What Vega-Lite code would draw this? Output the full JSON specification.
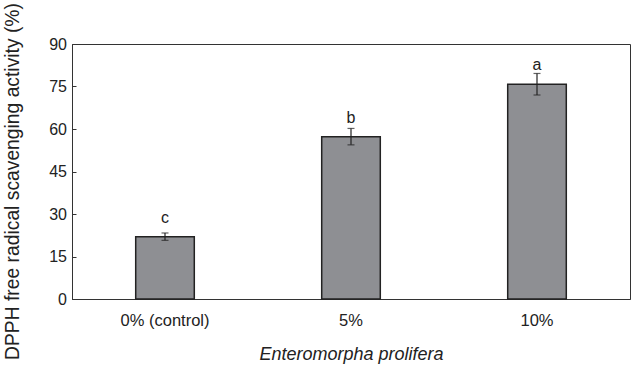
{
  "$schema": "https://vega.github.io/schema/vega-lite/v6.json",
  "width": 558,
  "height": 255,
  "autosize": {"type": "none"},
  "padding": {"left": 72, "top": 44, "right": 7, "bottom": 66},
  "background": "white",
  "config": {
    "view": {"stroke": "#333333", "strokeWidth": 1},
    "font": "Liberation Sans",
    "axis": {"domainColor": "#333333", "tickColor": "#333333", "labelColor": "#222222", "titleColor": "#222222", "titleFontWeight": "normal", "grid": false, "labelFont": "Liberation Sans", "titleFont": "Liberation Sans"}
  },
  "data": {
    "values": [
      {"group": "0% (control)", "value": 22.0, "sd": 1.3, "letter": "c"},
      {"group": "5%", "value": 57.3, "sd": 2.9, "letter": "b"},
      {"group": "10%", "value": 75.8, "sd": 3.8, "letter": "a"}
    ]
  },
  "encoding": {
    "x": {
      "field": "group",
      "type": "nominal",
      "sort": null,
      "scale": {"paddingInner": 0.685, "paddingOuter": 0.3425},
      "axis": {"title": "Enteromorpha prolifera", "titleFontStyle": "italic", "titleFontSize": 18, "titlePadding": 17, "labelFontSize": 16.5, "labelPadding": 13, "labelAngle": 0, "ticks": false}
    }
  },
  "layer": [
    {
      "mark": {"type": "bar", "fill": "#8e8f93", "stroke": "#222222", "strokeWidth": 1.5},
      "encoding": {
        "y": {
          "field": "value",
          "type": "quantitative",
          "title": "DPPH free radical scavenging activity (%)",
          "scale": {"domain": [0, 90]},
          "axis": {"values": [0, 15, 30, 45, 60, 75, 90], "tickSize": -4, "labelPadding": 9.5, "labelFontSize": 16, "titleFontSize": 19.3, "titlePadding": 26, "titleY": 137}
        }
      }
    },
    {
      "mark": {"type": "errorbar", "color": "#222222", "ticks": {"size": 7, "color": "#222222", "thickness": 1.2}, "rule": {"strokeWidth": 1.2}},
      "encoding": {
        "y": {"field": "value", "type": "quantitative", "title": "DPPH free radical scavenging activity (%)"},
        "yError": {"field": "sd"}
      }
    },
    {
      "mark": {"type": "text", "fontSize": 16, "color": "#222222", "baseline": "alphabetic", "dy": -14},
      "encoding": {
        "y": {"field": "value", "type": "quantitative", "title": "DPPH free radical scavenging activity (%)"},
        "text": {"field": "letter"}
      }
    }
  ]
}
